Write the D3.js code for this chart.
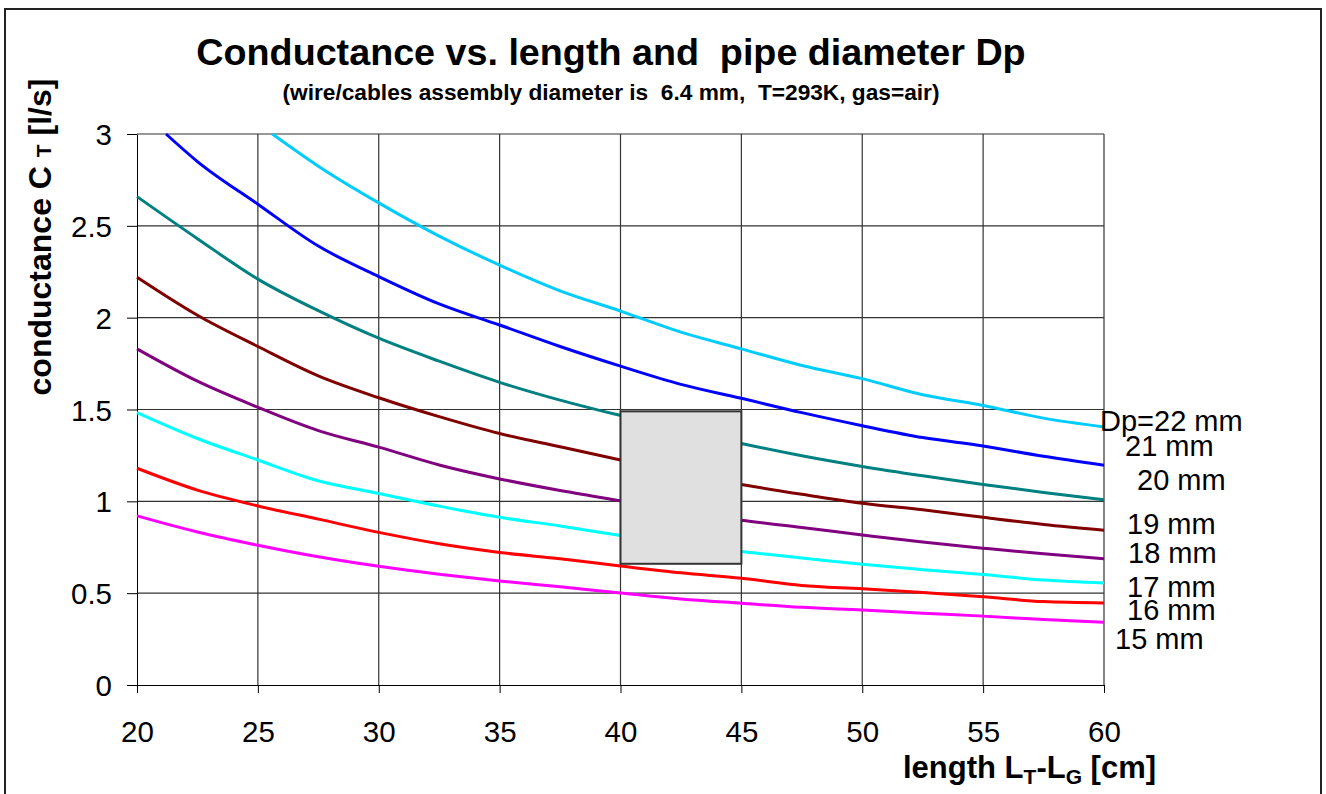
<!DOCTYPE html>
<meta charset="utf-8">
<html>
<head>
<style>
    body { margin: 0; background: #fff; }
    text { font-family: "Liberation Sans", Arial, sans-serif; fill: #000; }
    .domain { stroke: #000; }
    .tick line { stroke: #000; }
</style>
<script src="https://d3js.org/d3.v7.min.js"></script>
</head>
<body>
<svg width="1326" height="794"></svg>
<script>

// lengths L_T - L_G [cm] where the curves were read
var lengths = [20, 22.5, 25, 27.5, 30, 32.5, 35, 37.5, 40, 42.5, 45, 47.5, 50, 52.5, 55, 57.5, 60];

// conductance [l/s] for each pipe diameter (null = off chart / hidden behind the box)
var dp22 = [null, null, null, 2.825, 2.625, 2.444, 2.286, 2.146, 2.036, 1.921, 1.830, 1.740, 1.668, 1.580, 1.522, 1.453, 1.405];
var dp21 = [null, 2.85, 2.618, 2.39, 2.224, 2.075, 1.960, 1.843, 1.736, 1.637, 1.561, 1.483, 1.412, 1.347, 1.301, 1.245, 1.196];
var dp20 = [2.659, 2.43, 2.21, 2.038, 1.888, 1.763, 1.648, 1.551, 1.467, null, 1.315, 1.248, 1.190, 1.139, 1.092, 1.048, 1.009];
var dp19 = [2.22, 2.013, 1.843, 1.683, 1.564, 1.461, 1.369, 1.297, 1.225, null, 1.092, 1.038, 0.989, 0.954, 0.913, 0.874, 0.843];
var dp18 = [1.830, 1.654, 1.512, 1.385, 1.295, 1.198, 1.122, 1.059, 1.003, null, 0.897, 0.858, 0.817, 0.778, 0.745, 0.714, 0.688];
var dp17 = [1.483, 1.342, 1.225, 1.112, 1.043, 0.974, 0.913, 0.866, 0.814, null, 0.727, 0.692, 0.657, 0.628, 0.601, 0.572, 0.556];
var dp16 = [1.180, 1.061, 0.975, 0.903, 0.831, 0.769, 0.722, 0.687, 0.648, 0.611, 0.581, 0.542, 0.524, 0.503, 0.480, 0.454, 0.447];
var dp15 = [0.921, 0.833, 0.761, 0.698, 0.646, 0.603, 0.566, 0.535, 0.501, 0.468, 0.445, 0.423, 0.408, 0.391, 0.375, 0.356, 0.342];

// length where a curve comes in through the top of the plot (C = 3)
var topEntry = { 22: 25.6, 21: 21.2 };

var diameters = [22, 21, 20, 19, 18, 17, 16, 15];
var seriesValues = [dp22, dp21, dp20, dp19, dp18, dp17, dp16, dp15];
var seriesColors = ["#00ccff", "#0000ff", "#008080", "#800000", "#800080", "#00ffff", "#ff0000", "#ff00ff"];
var seriesLabels = ["Dp=22 mm", "21 mm", "20 mm", "19 mm", "18 mm", "17 mm", "16 mm", "15 mm"];

var xTicks = [20, 25, 30, 35, 40, 45, 50, 55, 60];
var yTicks = [0, 0.5, 1, 1.5, 2, 2.5, 3];

// shaded box (length range, conductance range)
var boxLength = [40, 45];
var boxConductance = [0.66, 1.49];

var svg = d3.select("svg"),
    width = +svg.attr("width"),
    height = +svg.attr("height"),
    margin = {top: 134, right: 222, bottom: 109, left: 137};

var x = d3.scaleLinear()
    .domain([20, 60])
    .range([margin.left, width - margin.right]);

var y = d3.scaleLinear()
    .domain([0, 3])
    .range([height - margin.bottom, margin.top]);

// outer frame
svg.append("rect")
    .attr("x", 5).attr("y", 9)
    .attr("width", 1316).attr("height", 820)
    .attr("fill", "none")
    .attr("stroke", "#222")
    .attr("stroke-width", 2);

// grid
svg.append("g")
    .selectAll("line")
    .data(yTicks.slice(1))
    .enter().append("line")
    .attr("x1", x(20)).attr("x2", x(60))
    .attr("y1", function(d) { return y(d); })
    .attr("y2", function(d) { return y(d); })
    .attr("stroke", "#333")
    .attr("stroke-width", 1.2);

svg.append("g")
    .selectAll("line")
    .data(xTicks.slice(1))
    .enter().append("line")
    .attr("x1", function(d) { return x(d); })
    .attr("x2", function(d) { return x(d); })
    .attr("y1", y(0)).attr("y2", y(3))
    .attr("stroke", "#333")
    .attr("stroke-width", 1.2);

// axes
svg.append("g")
    .attr("transform", "translate(0," + y(0) + ")")
    .call(d3.axisBottom(x).tickValues(xTicks).tickSize(8).tickSizeOuter(0).tickPadding(28))
    .call(function(g) { g.selectAll("text").attr("font-size", 29.5).style("font-family", "Liberation Sans, Arial, sans-serif"); });

svg.append("g")
    .attr("transform", "translate(" + x(20) + ",0)")
    .call(d3.axisLeft(y).tickValues(yTicks).tickSize(10).tickSizeOuter(0).tickPadding(15)
        .tickFormat(function(d) { return String(d); }))
    .call(function(g) { g.selectAll("text").attr("font-size", 29.5).attr("dy", "0.36em").style("font-family", "Liberation Sans, Arial, sans-serif"); });

// curves
var line = d3.line()
    .x(function(d) { return x(d[0]); })
    .y(function(d) { return y(d[1]); })
    .curve(d3.curveMonotoneX);

var series = diameters.map(function(dp, i) {
    var pts = [];
    if (topEntry[dp] !== undefined) pts.push([topEntry[dp], 3]);
    lengths.forEach(function(L, j) {
        if (seriesValues[i][j] != null) pts.push([L, seriesValues[i][j]]);
    });
    return {dp: dp, color: seriesColors[i], points: pts};
});

svg.append("g")
    .selectAll("path")
    .data(series)
    .enter().append("path")
    .attr("fill", "none")
    .attr("stroke", function(d) { return d.color; })
    .attr("stroke-width", 3)
    .attr("stroke-linejoin", "round")
    .attr("d", function(d) { return line(d.points); });

// grey box
svg.append("rect")
    .attr("x", x(boxLength[0]))
    .attr("y", y(boxConductance[1]))
    .attr("width", x(boxLength[1]) - x(boxLength[0]))
    .attr("height", y(boxConductance[0]) - y(boxConductance[1]))
    .attr("fill", "#e0e0e0")
    .attr("stroke", "#333")
    .attr("stroke-width", 2);

// series labels at the right end
var labelPos = [[1100, 431], [1125, 456], [1137, 490], [1127, 534], [1128, 563], [1127, 597], [1127, 620], [1115, 649]];
svg.append("g")
    .selectAll("text")
    .data(seriesLabels)
    .enter().append("text")
    .attr("x", function(d, i) { return labelPos[i][0]; })
    .attr("y", function(d, i) { return labelPos[i][1]; })
    .attr("font-size", 29)
    .text(function(d) { return d; });

// titles
svg.append("text")
    .attr("x", 611).attr("y", 65)
    .attr("text-anchor", "middle")
    .attr("font-size", 37.7)
    .attr("font-weight", "bold")
    .style("white-space", "pre")
    .text("Conductance vs. length and  pipe diameter Dp");

svg.append("text")
    .attr("x", 611).attr("y", 100)
    .attr("text-anchor", "middle")
    .attr("font-size", 22.7)
    .attr("font-weight", "bold")
    .style("white-space", "pre")
    .text("(wire/cables assembly diameter is  6.4 mm,  T=293K, gas=air)");

// axis titles
var xt = svg.append("text")
    .attr("x", 903).attr("y", 778)
    .attr("font-size", 31)
    .attr("font-weight", "bold");
xt.append("tspan").text("length L");
xt.append("tspan").attr("font-size", 21).attr("dy", 6).text("T");
xt.append("tspan").attr("dy", -6).text("-L");
xt.append("tspan").attr("font-size", 21).attr("dy", 6).text("G");
xt.append("tspan").attr("dy", -6).text(" [cm]");

var yt = svg.append("text")
    .attr("transform", "translate(51,237) rotate(-90)")
    .attr("text-anchor", "middle")
    .attr("font-size", 32)
    .attr("font-weight", "bold")
    .style("white-space", "pre");
yt.append("tspan").text("conductance C ");
yt.append("tspan").attr("font-size", 21).text("T");
yt.append("tspan").text(" [l/s]");

</script>
</body>
</html>
